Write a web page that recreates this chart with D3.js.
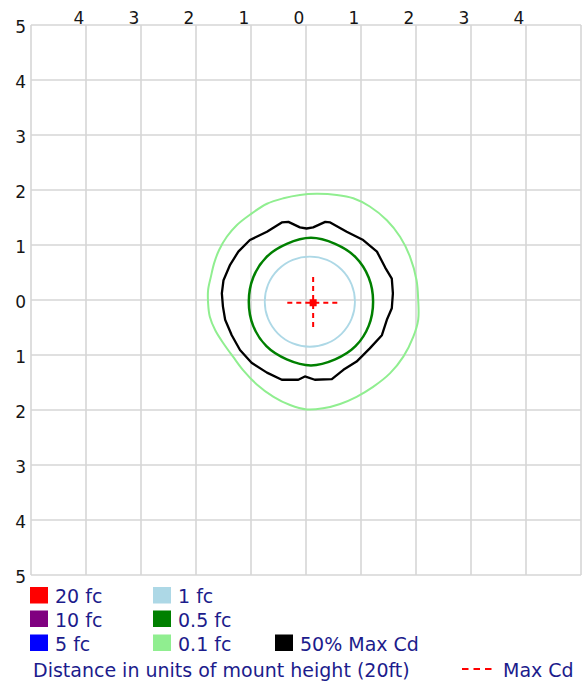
<!DOCTYPE html>
<html>
<head>
<meta charset="utf-8">
<script src="https://cdn.jsdelivr.net/npm/d3@7"></script>
<style>
  body { margin: 0; background: #fff; }
  svg { display: block; font-family: "DejaVu Sans", Verdana, sans-serif; }
</style>
</head>
<body>
<div id="chart"></div>
<script>
// grid / tick values (mount heights)
const gridValues = [-5, -4, -3, -2, -1, 0, 1, 2, 3, 4, 5]
const topTicks = [-4, -3, -2, -1, 0, 1, 2, 3, 4]
const sideTicks = [5, 4, 3, 2, 1, 0, -1, -2, -3, -4, -5]

// legend
const legendLabels = ['20 fc', '10 fc', '5 fc', '1 fc', '0.5 fc', '0.1 fc', '50% Max Cd']
const legendColors = ['#ff0000', '#800080', '#0000ff', '#add8e6', '#008000', '#90ee90', '#000000']
const axisCaption = 'Distance in units of mount height (20ft)'
const maxCdLabel = 'Max Cd'

// iso-footcandle contours, [x, y] in mount heights
const contour01fc = [
  [0.19, 1.93], [0.56, 1.91], [0.86, 1.85], [1.16, 1.70], [1.47, 1.45], [1.71, 1.15],
  [1.89, 0.79], [2.01, 0.36], [2.04, 0.00], [2.04, -0.36], [1.95, -0.67], [1.77, -1.03],
  [1.53, -1.33], [1.22, -1.58], [0.92, -1.76], [0.62, -1.89], [0.31, -1.97], [0.01, -1.99],
  [-0.29, -1.91], [-0.59, -1.76], [-0.90, -1.53], [-1.14, -1.28], [-1.32, -1.04], [-1.50, -0.79],
  [-1.65, -0.55], [-1.75, -0.30], [-1.78, -0.06], [-1.78, 0.18], [-1.73, 0.42], [-1.67, 0.67],
  [-1.58, 0.91], [-1.44, 1.15], [-1.26, 1.36], [-1.02, 1.55], [-0.71, 1.75], [-0.41, 1.85],
  [-0.11, 1.91]
]
const contourHalfMax = [
  [0.01, 1.30], [0.13, 1.32], [0.35, 1.42], [0.44, 1.41], [0.74, 1.24], [1.04, 1.09],
  [1.29, 0.88], [1.44, 0.59], [1.56, 0.39], [1.58, 0.12], [1.56, -0.15], [1.47, -0.36],
  [1.38, -0.64], [1.16, -0.88], [0.92, -1.12], [0.68, -1.27], [0.47, -1.44], [0.16, -1.45],
  [-0.02, -1.39], [-0.14, -1.45], [-0.44, -1.45], [-0.71, -1.32], [-0.99, -1.14], [-1.20, -0.91],
  [-1.35, -0.64], [-1.47, -0.36], [-1.51, -0.12], [-1.53, 0.12], [-1.50, 0.36], [-1.38, 0.64],
  [-1.23, 0.88], [-1.02, 1.09], [-0.71, 1.24], [-0.44, 1.41], [-0.32, 1.42], [-0.11, 1.32]
]
const contour05fc = [
  [1.22, -0.03], [1.14, 0.41], [0.90, 0.78], [0.53, 1.02], [0.09, 1.13], [-0.35, 1.02],
  [-0.72, 0.78], [-0.96, 0.41], [-1.04, -0.03], [-0.96, -0.47], [-0.72, -0.84], [-0.35, -1.08],
  [0.09, -1.19], [0.53, -1.08], [0.90, -0.84], [1.14, -0.47]
]
const contour1fc = [
  [0.89, -0.03], [0.83, 0.28], [0.65, 0.55], [0.38, 0.73], [0.07, 0.79], [-0.24, 0.73],
  [-0.51, 0.55], [-0.69, 0.28], [-0.75, -0.03], [-0.69, -0.34], [-0.51, -0.61], [-0.24, -0.79],
  [0.07, -0.85], [0.38, -0.79], [0.65, -0.61], [0.83, -0.34]
]
const maxCd = [0.13, -0.05]
const maxCdArm = 0.47

const width = 582, height = 684
const margin = { top: 25, right: 1, bottom: 109, left: 31 }

const x = d3.scaleLinear().domain([-5, 5]).range([margin.left, width - margin.right])
const y = d3.scaleLinear().domain([-5, 5]).range([height - margin.bottom, margin.top])

const svg = d3.select('#chart')
  .append('svg')
    .attr('width', width)
    .attr('height', height)

// grid
svg.append('g')
    .attr('class', 'grid')
    .attr('stroke', '#d6d6d6')
    .attr('stroke-width', 1.6)
  .call(g => g.selectAll('line.v')
    .data(gridValues)
    .join('line')
      .attr('class', 'v')
      .attr('x1', d => x(d)).attr('x2', d => x(d))
      .attr('y1', y(5)).attr('y2', y(-5)))
  .call(g => g.selectAll('line.h')
    .data(gridValues)
    .join('line')
      .attr('class', 'h')
      .attr('y1', d => y(d)).attr('y2', d => y(d))
      .attr('x1', x(-5)).attr('x2', x(5)))

// tick labels
svg.append('g')
    .attr('class', 'x ticks')
    .attr('font-size', 17)
    .attr('fill', '#161616')
    .attr('text-anchor', 'middle')
  .selectAll('text')
  .data(topTicks)
  .join('text')
    .attr('x', d => x(d) - 7)
    .attr('y', margin.top - 1)
    .text(d => Math.abs(d))

svg.append('g')
    .attr('class', 'y ticks')
    .attr('font-size', 17)
    .attr('fill', '#161616')
    .attr('text-anchor', 'end')
  .selectAll('text')
  .data(sideTicks)
  .join('text')
    .attr('x', margin.left - 5)
    .attr('y', d => y(d) + 8)
    .text(d => Math.abs(d))

// contours
const line = d3.line()
  .x(d => x(d[0]))
  .y(d => y(d[1]))

const contours = [
  { pts: contour01fc, color: legendColors[5], w: 2, curve: d3.curveCatmullRomClosed },
  { pts: contourHalfMax, color: legendColors[6], w: 2.3, curve: d3.curveLinearClosed },
  { pts: contour05fc, color: legendColors[4], w: 2.5, curve: d3.curveCatmullRomClosed },
  { pts: contour1fc, color: legendColors[3], w: 1.8, curve: d3.curveCatmullRomClosed }
]

svg.append('g')
    .attr('class', 'contours')
    .attr('fill', 'none')
  .selectAll('path')
  .data(contours)
  .join('path')
    .attr('d', d => line.curve(d.curve)(d.pts))
    .attr('stroke', d => d.color)
    .attr('stroke-width', d => d.w)
    .attr('stroke-linejoin', 'round')

// max cd marker
svg.append('g')
    .attr('class', 'max-cd')
    .attr('stroke', '#ff0000')
    .attr('stroke-width', 2)
    .attr('stroke-dasharray', '5,4')
  .call(g => g.append('line')
    .attr('x1', x(maxCd[0] - maxCdArm)).attr('x2', x(maxCd[0] + maxCdArm))
    .attr('y1', y(maxCd[1])).attr('y2', y(maxCd[1])))
  .call(g => g.append('line')
    .attr('x1', x(maxCd[0])).attr('x2', x(maxCd[0]))
    .attr('y1', y(maxCd[1] + maxCdArm)).attr('y2', y(maxCd[1] - maxCdArm)))

svg.append('rect')
    .attr('x', x(maxCd[0]) - 3.5)
    .attr('y', y(maxCd[1]) - 3.5)
    .attr('width', 7)
    .attr('height', 7)
    .attr('fill', '#ff0000')

// legend
const slots = [[0, 0], [0, 1], [0, 2], [1, 0], [1, 1], [1, 2], [2, 2]]
const colX = [30, 153, 275]
const rowY = [587, 610.5, 634.5]
const textColor = '#1c1c8c'

svg.append('g')
    .attr('class', 'legend')
  .selectAll('g')
  .data(legendLabels)
  .join('g')
    .attr('transform', (d, i) => `translate(${colX[slots[i][0]]}, ${rowY[slots[i][1]]})`)
  .call(g => g.append('rect')
    .attr('width', 18)
    .attr('height', 16.5)
    .attr('fill', (d, i) => legendColors[i]))
  .call(g => g.append('text')
    .attr('x', 25)
    .attr('y', 16)
    .attr('font-size', 19)
    .attr('fill', textColor)
    .text(d => d))

svg.append('text')
    .attr('x', 33)
    .attr('y', 677)
    .attr('font-size', 19)
    .attr('fill', textColor)
    .text(axisCaption)

svg.append('line')
    .attr('x1', 462).attr('x2', 494)
    .attr('y1', 669).attr('y2', 669)
    .attr('stroke', '#ff0000')
    .attr('stroke-width', 2)
    .attr('stroke-dasharray', '6.5,5')

svg.append('text')
    .attr('x', 503)
    .attr('y', 677)
    .attr('font-size', 19)
    .attr('fill', textColor)
    .text(maxCdLabel)
</script>
</body>
</html>
